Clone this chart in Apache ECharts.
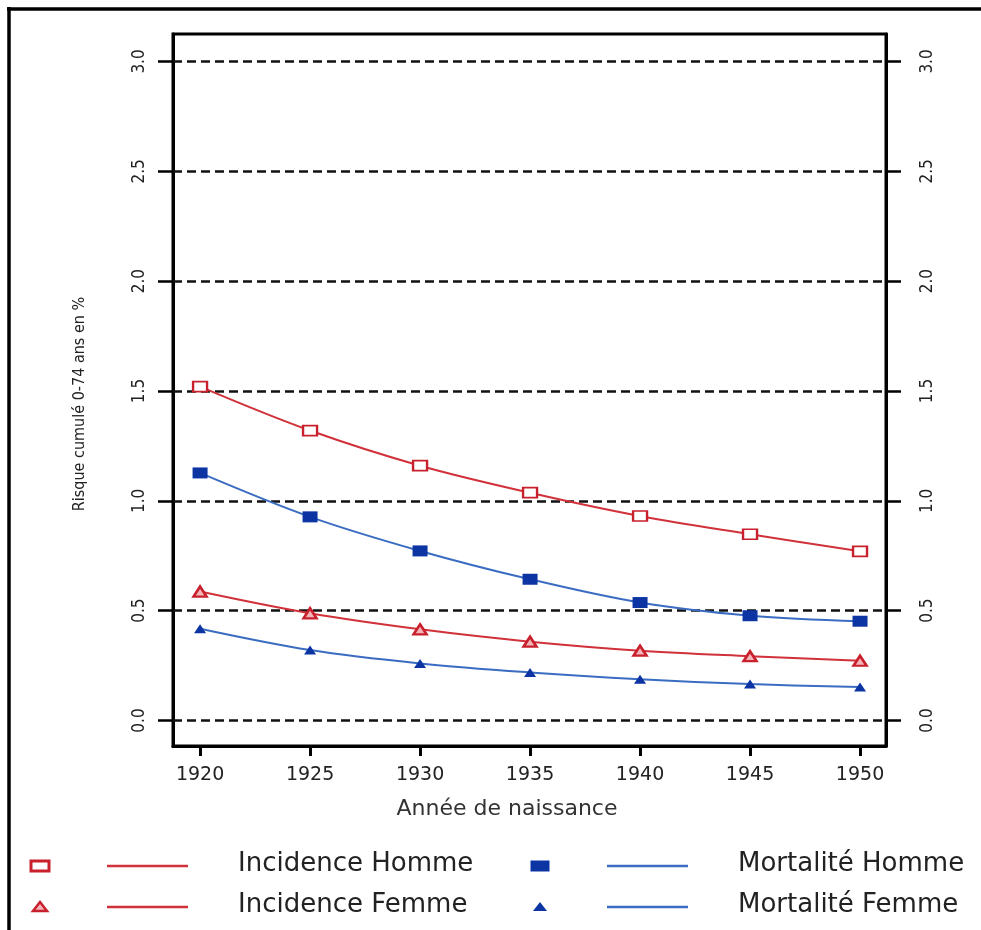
<!DOCTYPE html>
<html>
<head>
<meta charset="utf-8">
<script src="https://cdn.jsdelivr.net/npm/echarts@6/dist/echarts.min.js"></script>
<style>
html,body{margin:0;padding:0;background:#fff;}
#chart{width:981px;height:930px;}
</style>
</head>
<body>
<div id="chart"></div>
<script>
// ---- data ----
const years = [1920, 1925, 1930, 1935, 1940, 1945, 1950];
const incidenceHomme = [1.52, 1.32, 1.16, 1.037, 0.931, 0.848, 0.77];
const mortaliteHomme = [1.127, 0.927, 0.772, 0.643, 0.537, 0.477, 0.452];
const incidenceFemme = [0.587, 0.488, 0.415, 0.359, 0.318, 0.293, 0.272];
const mortaliteFemme = [0.418, 0.321, 0.26, 0.219, 0.188, 0.166, 0.152];
const xTicks = [1920, 1925, 1930, 1935, 1940, 1945, 1950];
const yTicks = [0, 0.5, 1.0, 1.5, 2.0, 2.5, 3.0];
const seriesNames = ['Incidence Homme', 'Incidence Femme', 'Mortalité Homme', 'Mortalité Femme'];
const xTitle = 'Année de naissance';
const yTitle = 'Risque cumulé 0-74 ans en %';

const RED = '#c8202c';
const RED_LINE = '#d0313a';
const BLUE = '#0c35a3';
const BLUE_LINE = '#3a6cc2';
const narrow = "'Liberation Sans Narrow','DejaVu Sans Condensed','Roboto Condensed',sans-serif";
const wide = "'DejaVu Sans',sans-serif";

const pairs = arr => years.map((y, i) => [y, arr[i]]);

const styles = [
  {name: seriesNames[0], data: incidenceHomme, symbol: 'rect', size: [14, 10], fill: '#fff', border: RED, bw: 2, line: RED_LINE},
  {name: seriesNames[1], data: incidenceFemme, symbol: 'triangle', size: [13, 10], fill: '#f3b5b8', border: RED, bw: 2.5, line: RED_LINE},
  {name: seriesNames[2], data: mortaliteHomme, symbol: 'rect', size: [15, 11], fill: BLUE, border: BLUE, bw: 0, line: BLUE_LINE},
  {name: seriesNames[3], data: mortaliteFemme, symbol: 'triangle', size: [12, 9], fill: BLUE, border: BLUE, bw: 0, line: BLUE_LINE}
];

const series = styles.map((s, i) => ({
  name: s.name,
  type: 'line',
  data: pairs(s.data),
  smooth: 0.35,
  symbol: s.symbol,
  symbolSize: s.size,
  showAllSymbol: true,
  lineStyle: {color: s.line, width: 2},
  itemStyle: {color: s.fill, borderColor: s.border, borderWidth: s.bw},
  z: 5 + i,
  animation: false
}));

// dashed reference lines at the y ticks
series.unshift({
  type: 'line',
  data: [],
  silent: true,
  animation: false,
  markLine: {
    silent: true,
    symbol: ['none', 'none'],
    label: {show: false},
    lineStyle: {color: '#111', width: 2.5, type: [9, 5]},
    data: yTicks.map(v => ({yAxis: v})),
    animation: false
  },
  z: 2
});

// legend drawn as graphic (symbol, line, text), laid out in 2 columns x 2 rows
const legendCols = [0, 500];
const legendRows = [866, 907];
const legendOrder = [0, 1, 2, 3]; // col 0: incidence, col 1: mortalité
const graphics = [];
legendOrder.forEach((si, k) => {
  const s = styles[si];
  const cx = legendCols[Math.floor(k / 2)];
  const cy = legendRows[k % 2];
  if (s.symbol === 'rect') {
    graphics.push({type: 'rect', shape: {x: cx + 40 - s.size[0] / 2 - 2, y: cy - s.size[1] / 2, width: s.size[0] + 4, height: s.size[1]},
      style: {fill: s.fill, stroke: s.border, lineWidth: s.bw > 0 ? 3 : 0}});
  } else {
    graphics.push({type: 'polygon', shape: {points: [[cx + 40, cy - 5], [cx + 47, cy + 4], [cx + 33, cy + 4]]},
      style: {fill: s.fill, stroke: s.border, lineWidth: s.bw > 0 ? 2.5 : 0}});
  }
  graphics.push({type: 'line', shape: {x1: cx + 107, y1: cy, x2: cx + 188, y2: cy},
    style: {stroke: s.line, lineWidth: 2.5}});
  graphics.push({type: 'text', x: cx + 238, y: cy - 2,
    style: {text: s.name, font: '26px ' + wide, fill: '#222', align: 'left', verticalAlign: 'middle'}});
});
// outer frame (top and left edges)
graphics.push({type: 'line', shape: {x1: 7, y1: 9, x2: 981, y2: 9}, style: {stroke: '#000', lineWidth: 3.5}});
graphics.push({type: 'line', shape: {x1: 9, y1: 7, x2: 9, y2: 930}, style: {stroke: '#000', lineWidth: 3.5}});
// y title
graphics.push({type: 'text', x: 80, y: 404, rotation: Math.PI / 2,
  style: {text: yTitle, font: '16px ' + narrow, fill: '#222', align: 'center', verticalAlign: 'middle'}});

const yAxisBase = (pos, margin) => ({
  type: 'value',
  position: pos,
  min: -0.116,
  max: 3.125,
  splitLine: {show: false},
  axisLine: {show: true, onZero: false, lineStyle: {color: '#000', width: 3}},
  axisTick: {show: true, customValues: yTicks, length: 15, lineStyle: {color: '#000', width: 2.5}},
  axisLabel: {show: true, customValues: yTicks, rotate: 90, margin: margin,
    formatter: v => Number(v).toFixed(1), fontFamily: narrow, fontSize: 17, color: '#222'}
});

const chart = echarts.init(document.getElementById('chart'), null, {renderer: 'canvas'});
chart.setOption({
  backgroundColor: '#fff',
  animation: false,
  grid: {left: 173, right: 95, top: 34, bottom: 184, show: true, borderColor: '#000', borderWidth: 3, backgroundColor: 'transparent'},
  xAxis: {
    type: 'value',
    min: 1918.77,
    max: 1951.18,
    splitLine: {show: false},
    axisLine: {show: true, onZero: false, lineStyle: {color: '#000', width: 3}},
    axisTick: {show: true, customValues: xTicks, length: 10, lineStyle: {color: '#000', width: 3}},
    axisLabel: {show: true, customValues: xTicks, margin: 20, formatter: v => String(Math.round(v)),
      fontFamily: wide, fontSize: 19, color: '#222'},
    name: xTitle,
    nameLocation: 'middle',
    nameGap: 52,
    nameTextStyle: {fontFamily: wide, fontSize: 22, color: '#333', padding: [0, 45, 0, 0]}
  },
  yAxis: [yAxisBase('left', 25), yAxisBase('right', 33)],
  series: series,
  graphic: graphics
});
</script>
</body>
</html>
